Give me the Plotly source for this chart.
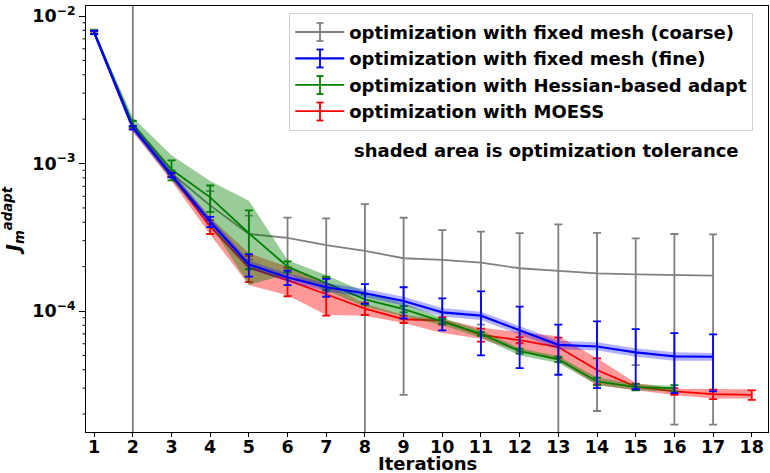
import plotly.graph_objects as go

# ---------------- data ----------------
coarse_x = list(range(1, 18))
coarse_y = [7.8e-3, 1.78e-3, 8.6e-4, 5.2e-4, 3.33e-4, 3.13e-4, 2.8e-4, 2.56e-4, 2.28e-4,
            2.22e-4, 2.13e-4, 1.95e-4, 1.87e-4, 1.80e-4, 1.77e-4, 1.75e-4, 1.74e-4]
coarse_err = [3e-4, 1.5e-2, 4e-5, 1.3e-4, 1.1e-4, 1.17e-4, 1.45e-4, 2.75e-4, 2.01e-4,
              1.32e-4, 1.32e-4, 1.42e-4, 2.0e-4, 1.59e-4, 1.34e-4, 1.58e-4, 1.57e-4]

fine_x = list(range(1, 18))
fine_y = [7.75e-3, 1.75e-3, 8.35e-4, 4.03e-4, 2.07e-4, 1.69e-4, 1.45e-4, 1.32e-4, 1.17e-4,
          9.8e-5, 9.3e-5, 7.4e-5, 5.9e-5, 5.75e-5, 5.25e-5, 4.93e-5, 4.9e-5]
fine_err = [2e-4, 5e-5, 3e-5, 3.2e-5, 3.6e-5, 1.9e-5, 2.0e-5, 2.0e-5, 2.8e-5,
            2.4e-5, 4.3e-5, 3.3e-5, 2.2e-5, 2.75e-5, 2.3e-5, 2.15e-5, 2.05e-5]
fine_tol_hi = [8.2e-3, 1.87e-3, 8.9e-4, 4.3e-4, 2.2e-4, 1.8e-4, 1.55e-4, 1.41e-4, 1.25e-4,
               1.05e-4, 9.9e-5, 7.9e-5, 6.3e-5, 6.15e-5, 5.6e-5, 5.25e-5, 5.2e-5]
fine_tol_lo = [7.3e-3, 1.64e-3, 7.8e-4, 3.77e-4, 1.94e-4, 1.58e-4, 1.36e-4, 1.24e-4, 1.09e-4,
               9.2e-5, 8.7e-5, 6.95e-5, 5.5e-5, 5.4e-5, 4.9e-5, 4.6e-5, 4.6e-5]

hess_x = list(range(1, 17))
hess_y = [7.8e-3, 1.85e-3, 9.1e-4, 5.9e-4, 3.37e-4, 2.0e-4, 1.55e-4, 1.2e-4, 1.03e-4,
          8.5e-5, 7.0e-5, 5.35e-5, 4.7e-5, 3.33e-5, 3.05e-5, 3.0e-5]
hess_err = [2e-4, 1e-4, 1.4e-4, 1.2e-4, 1.45e-4, 1.7e-5, 1.6e-5, 1.0e-5, 5e-6,
            3e-6, 2e-6, 2e-6, 2e-6, 2e-6, 1.5e-6, 1.5e-6]
hess_tol_hi = [8.0e-3, 2.05e-3, 1.14e-3, 7.6e-4, 5.6e-4, 2.22e-4, 1.75e-4, 1.35e-4, 1.13e-4,
               9.0e-5, 7.4e-5, 5.6e-5, 4.95e-5, 3.55e-5, 3.2e-5, 3.1e-5]
hess_tol_lo = [7.5e-3, 1.7e-3, 7.8e-4, 3.9e-4, 1.5e-4, 1.78e-4, 1.38e-4, 1.07e-4, 9.2e-5,
               8.0e-5, 6.6e-5, 5.0e-5, 4.45e-5, 3.15e-5, 2.9e-5, 2.85e-5]

moess_x = list(range(1, 19))
moess_y = [7.7e-3, 1.75e-3, 8.3e-4, 3.73e-4, 1.97e-4, 1.62e-4, 1.3e-4, 1.04e-4, 8.8e-5,
           8.6e-5, 6.9e-5, 6.35e-5, 5.7e-5, 3.98e-5, 3.07e-5, 2.85e-5, 2.73e-5, 2.7e-5]
moess_err = [1.5e-4, 4e-5, 2e-5, 4e-5, 4e-5, 3.6e-5, 3.7e-5, 1.0e-5, 5e-6,
             5e-6, 7e-6, 3e-6, 9e-6, 8e-6, 1.5e-6, 1.5e-6, 2e-6, 2e-6]
moess_tol_hi = [7.9e-3, 1.85e-3, 8.8e-4, 4.3e-4, 2.47e-4, 2.0e-4, 1.55e-4, 1.12e-4, 9.4e-5,
                8.8e-5, 7.7e-5, 7.2e-5, 6.75e-5, 4.8e-5, 3.25e-5, 2.97e-5, 2.95e-5, 2.95e-5]
moess_tol_lo = [7.5e-3, 1.65e-3, 7.6e-4, 3.3e-4, 1.5e-4, 1.28e-4, 9.4e-5, 9.3e-5, 8.3e-5,
                7.1e-5, 6.5e-5, 5.3e-5, 4.6e-5, 3.15e-5, 2.9e-5, 2.7e-5, 2.55e-5, 2.55e-5]

x_ticks = list(range(1, 19))
y_major_ticks = [1e-4, 1e-3, 1e-2]
y_major_text = ["10<sup>−4</sup>", "10<sup>−3</sup>", "10<sup>−2</sup>"]
y_minor_ticks = [2e-5, 3e-5, 4e-5, 5e-5, 6e-5, 7e-5, 8e-5, 9e-5,
                 2e-4, 3e-4, 4e-4, 5e-4, 6e-4, 7e-4, 8e-4, 9e-4,
                 2e-3, 3e-3, 4e-3, 5e-3, 6e-3, 7e-3, 8e-3, 9e-3]
labels = ["optimization with fixed mesh (coarse)",
          "optimization with fixed mesh (fine)",
          "optimization with Hessian-based adapt",
          "optimization with MOESS"]
legend_colors = ["#808080", "#0000ff", "#008000", "#ff0000"]

FONT = "DejaVu Sans"
PLOT_W, PLOT_H = 682, 426
fig = go.Figure()


def band(x, hi, lo, fillcolor):
    fig.add_trace(go.Scatter(x=x, y=hi, mode="lines", line=dict(width=0),
                             showlegend=False, hoverinfo="skip"))
    fig.add_trace(go.Scatter(x=x, y=lo, mode="lines", line=dict(width=0),
                             fill="tonexty", fillcolor=fillcolor,
                             showlegend=False, hoverinfo="skip"))


def series(x, y, err, color, name, rank, width=1.8):
    fig.add_trace(go.Scatter(
        x=x, y=y, mode="lines", name=name, legendrank=rank, legendgroup=name,
        line=dict(color=color, width=width),
        error_y=dict(type="data", array=err, visible=True, color=color,
                     thickness=1.8, width=4)))


series(coarse_x, coarse_y, coarse_err, legend_colors[0], labels[0], 1)
band(moess_x, moess_tol_hi, moess_tol_lo, "rgba(255,0,0,0.4)")
series(moess_x, moess_y, moess_err, legend_colors[3], labels[3], 4)
band(hess_x, hess_tol_hi, hess_tol_lo, "rgba(0,128,0,0.4)")
series(hess_x, hess_y, hess_err, legend_colors[2], labels[2], 3)
band(fine_x, fine_tol_hi, fine_tol_lo, "rgba(0,0,255,0.3)")
series(fine_x, fine_y, fine_err, legend_colors[1], labels[1], 2, width=2.2)

# minor log ticks on the y axis (drawn as short outward ticks)
for v in y_minor_ticks:
    fig.add_shape(type="line", xref="paper", yref="y", x0=-3.5 / PLOT_W, x1=0,
                  y0=v, y1=v, line=dict(color="black", width=1), layer="above")

# error-bar glyphs inside the legend handles
row_centers_px = [32, 58.5, 85, 111.5]
for col, ry in zip(legend_colors, row_centers_px):
    yc = 1 - (ry - 6) / PLOT_H
    h = 9 / PLOT_H
    xc = (320 - 86) / PLOT_W
    cw = 3.5 / PLOT_W
    fig.add_shape(type="line", xref="paper", yref="paper", x0=xc, x1=xc,
                  y0=yc - h, y1=yc + h, line=dict(color=col, width=1.8))
    for yy in (yc - h, yc + h):
        fig.add_shape(type="line", xref="paper", yref="paper", x0=xc - cw, x1=xc + cw,
                      y0=yy, y1=yy, line=dict(color=col, width=1.8))

fig.add_annotation(text="<b>shaded area is optimization tolerance</b>",
                   xref="paper", yref="paper", x=0.6745, y=0.66,
                   xanchor="center", yanchor="middle", showarrow=False,
                   font=dict(family=FONT, size=18, color="black"))
fig.add_annotation(text="<b>Iterations</b>",
                   xref="paper", yref="paper", x=0.5, y=-0.074,
                   xanchor="center", yanchor="middle", showarrow=False,
                   font=dict(family=FONT, size=18, color="black"))

fig.update_layout(
    width=770, height=473,
    margin=dict(l=86, r=2, t=6, b=41, autoexpand=False),
    paper_bgcolor="white", plot_bgcolor="white",
    font=dict(family=FONT, color="black"),
    showlegend=True,
    legend=dict(x=0.298, y=0.984, xanchor="left", yanchor="top",
                bgcolor="rgba(255,255,255,0)", bordercolor="#d0d0d0", borderwidth=1,
                font=dict(family=FONT, size=18, color="black", weight="bold"),
                tracegroupgap=0, traceorder="grouped", itemwidth=49),
    xaxis=dict(range=[0.79, 18.42], tickvals=x_ticks, ticktext=[str(v) for v in x_ticks],
               showgrid=False, zeroline=False, showline=True, linecolor="black",
               linewidth=1, mirror=True, ticks="outside", ticklen=4, tickcolor="black",
               ticklabelstandoff=-5,
               tickfont=dict(family=FONT, size=17.5, weight="bold")),
    yaxis=dict(type="log", range=[-4.82, -1.932], tickmode="array",
               tickvals=y_major_ticks, ticktext=y_major_text,
               ticklabeloverflow="allow",
               showgrid=False, zeroline=False, showline=True, linecolor="black",
               linewidth=1, mirror=True, ticks="outside", ticklen=6, tickcolor="black",
               tickfont=dict(family=FONT, size=17.5, weight="bold"),
               title=dict(text="<b><i>J</i><sub><i>m</i></sub><sup><i>adapt</i></sup></b>",
                          font=dict(family=FONT, size=19), standoff=6)),
)

fig.write_html("out.html")
